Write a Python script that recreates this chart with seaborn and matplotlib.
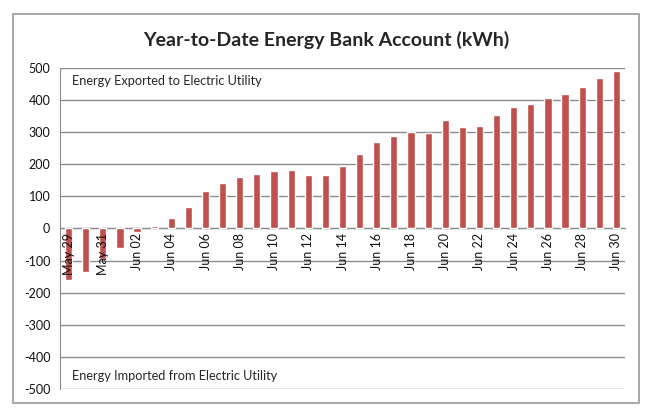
import numpy as np
import pandas as pd
import matplotlib
matplotlib.use("Agg")
import matplotlib.pyplot as plt
import seaborn as sns
from matplotlib.patches import Rectangle

dates = ["May 29", "May 30", "May 31"] + [f"Jun {d:02d}" for d in range(1, 31)]
balance_kwh = [-160, -134, -96, -60, -12, 9, 34, 66, 117, 142, 160, 171, 178, 182,
               166, 166, 196, 232, 268, 288, 301, 296, 337, 315, 319, 354, 380, 387,
               408, 420, 441, 469, 491]
y_ticks = [-500, -400, -300, -200, -100, 0, 100, 200, 300, 400, 500]
title = "Year-to-Date Energy Bank Account (kWh)"
label_top = "Energy Exported to Electric Utility"
label_bottom = "Energy Imported from Electric Utility"

df = pd.DataFrame({"date": dates, "kwh": balance_kwh})

sns.set_style("white")
plt.rcParams["font.family"] = ["Lato", "DejaVu Sans"]

fig = plt.figure(figsize=(6.48, 4.15), dpi=100)
fig.patches.append(Rectangle((0.0201, 0.0289), 0.966, 0.937, transform=fig.transFigure,
                             fill=False, edgecolor="#9a9a9a", linewidth=1.2, zorder=0))
ax = fig.add_axes([0.0926, 0.0627, 0.8719, 0.7734])

sns.barplot(data=df, x="date", y="kwh", color="#C0504D", width=0.42, ax=ax,
            saturation=1, zorder=2)

ax.set_ylim(-500, 500)
ax.set_xlim(-0.5, len(dates) - 0.5)
ax.set_yticks(y_ticks)
ax.set_yticklabels([str(v) for v in y_ticks])
ax.yaxis.grid(True, color="#8c8c8c", linewidth=1.0)
ax.set_axisbelow(True)
ax.xaxis.set_zorder(5)
ax.tick_params(axis="y", length=3, color="#8c8c8c", direction="out", pad=4,
               labelsize=9, labelcolor="#111111")

major = list(range(0, len(dates), 2))
ax.set_xticks(major)
ax.set_xticklabels([dates[i] for i in major])
ax.set_xticks([i + 0.5 for i in range(1, len(dates) - 1, 2)], minor=True)
ax.tick_params(axis="x", which="major", length=0, pad=3, labelrotation=90,
               labelsize=9, labelcolor="#111111")
ax.tick_params(axis="x", which="minor", length=4, color="#8c8c8c", direction="out")

for s in ["top", "right"]:
    ax.spines[s].set_visible(False)
ax.spines["left"].set_color("#8c8c8c")
ax.spines["bottom"].set_color("#8c8c8c")
ax.spines["bottom"].set_position(("data", 0))
ax.spines["bottom"].set_zorder(1)
ax.set_xlabel("")
ax.set_ylabel("")

fig.text(0.503, 0.903, title, ha="center", va="center", fontsize=14, fontweight="bold")
ax.text(0.022, 0.96, label_top, transform=ax.transAxes, ha="left", va="center", fontsize=9.2)
ax.text(0.022, 0.04, label_bottom, transform=ax.transAxes, ha="left", va="center", fontsize=9.2)

for lbl in ax.get_xticklabels():
    lbl.set_verticalalignment("top")

fig.savefig("out.png", dpi=100)
